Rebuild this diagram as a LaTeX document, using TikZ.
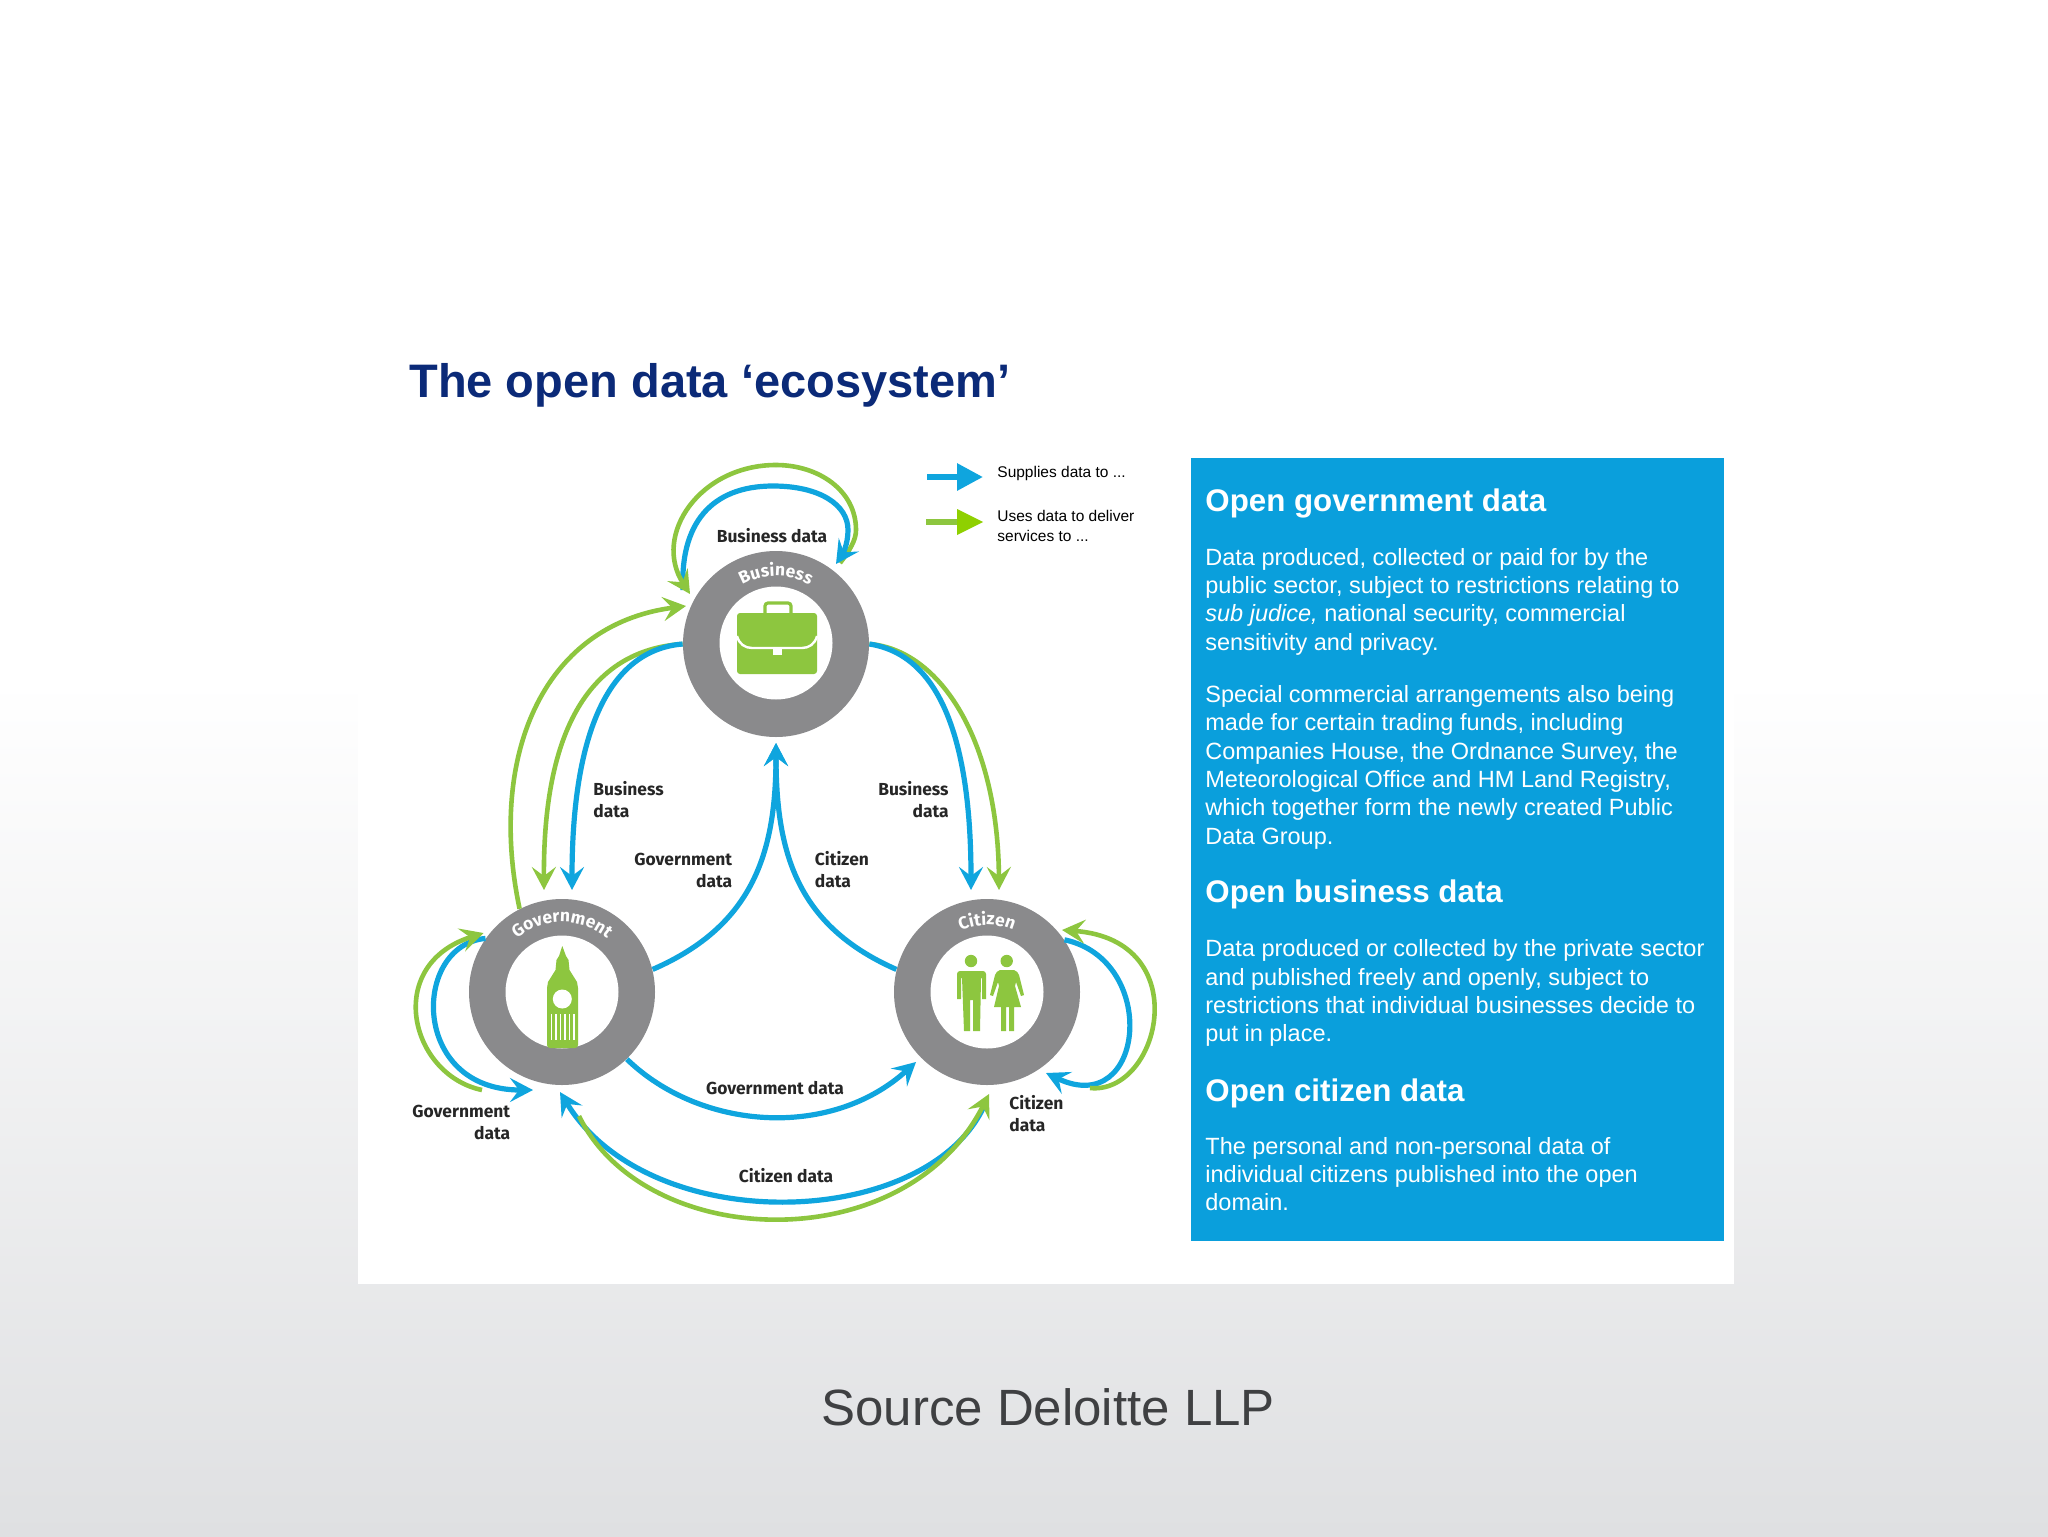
\documentclass[tikz,border=0pt]{standalone}
\usepackage{fontspec}
\setmainfont{Liberation Sans}
\newfontfamily\lblfam{Fira Sans}
\usetikzlibrary{arrows.meta,calc,decorations.text}
\definecolor{bgend}{HTML}{DFE0E2}
\definecolor{bgmid}{HTML}{EFEFF0}
\definecolor{boxblue}{HTML}{0A9FDC}
\definecolor{lineblue}{HTML}{0FA5DE}
\definecolor{linegreen}{HTML}{8DC63F}
\definecolor{legendgreen}{HTML}{8FD000}
\definecolor{ringgray}{HTML}{8A8A8C}
\definecolor{titleblue}{HTML}{0B2A78}
\definecolor{srcgray}{HTML}{3F4042}
\newcommand{\ringfont}{\lblfam\bfseries\fontsize{8.7}{10}\selectfont\color{white}}
\tikzset{
  ringnode/.style={circle,fill=ringgray,minimum size=93pt,inner sep=0pt},
  holenode/.style={circle,fill=white,minimum size=56.5pt,inner sep=0pt},
  tipb/.style={-{Stealth[length=11.5pt,width=12pt,inset=4.5pt]}},
  blueline/.style={draw=lineblue,line width=2.6pt,tipb},
  greenline/.style={draw=linegreen,line width=2.3pt,tipb},
  greenmerge/.style={draw=linegreen,line width=2.3pt},
  lab/.style={font=\lblfam\bfseries\fontsize{8.7}{11}\selectfont,text=black!85,inner sep=0pt},
  legtext/.style={font=\fontsize{7.75}{10}\selectfont,text=black,inner sep=0pt,anchor=base west},
  headtext/.style={font=\bfseries\fontsize{15.65}{18}\selectfont,text=white,inner sep=0pt,anchor=base west},
  bodytext/.style={font=\fontsize{11.75}{13}\selectfont,text=white,inner sep=0pt,anchor=base west},
  icon/.style={fill=linegreen,draw=none},
  ringtext/.style={decorate,decoration={text along path,text align=center}},
}
\begin{document}
\begin{tikzpicture}[x=0.5pt,y=-0.5pt]
\useasboundingbox (0,0) rectangle (2048,1536);
% background
\fill[white] (0,0) rectangle (2048,1536);
\shade[top color=white,middle color=bgmid,bottom color=bgend] (0,680) rectangle (2048,1536);
\fill[white] (358,440) rectangle (1734,1284);
\fill[boxblue] (1191,458) rectangle (1724,1241);

% title + source
\node[anchor=base west,inner sep=0pt,text=titleblue,font=\bfseries\fontsize{23.5}{28}\selectfont] (title) at (409,397) {The open data ‘ecosystem’};
\node[anchor=base west,inner sep=0pt,text=srcgray,font=\fontsize{25.5}{30}\selectfont] (source) at (821,1425) {Source Deloitte LLP};

% rings
\node[ringnode] (biz) at (776,644) {};
\node[ringnode] (gov) at (562,992) {};
\node[ringnode] (cit) at (987,992) {};
\node[holenode] (bizhole) at (776,643) {};
\node[holenode] (govhole) at (562,992) {};
\node[holenode] (cithole) at (987,992) {};

% ring captions
\path[ringtext,decoration={text={|\ringfont|Business}}] ($(biz.center)+(150:34pt)$) arc[start angle=150,end angle=30,radius=34pt];
\path[ringtext,decoration={text={|\ringfont|Government}}] ($(gov.center)+(150:35pt)$) arc[start angle=150,end angle=30,radius=35pt];
\path[ringtext,decoration={text={|\ringfont|Citizen}}] ($(cit.center)+(150:33.5pt)$) arc[start angle=150,end angle=30,radius=33.5pt];

% briefcase
\fill[icon] (740,613) -- (814,613) to[out=0,in=90] (817,616) -- (817,671) to[out=-90,in=0] (814,674) -- (740,674) to[out=180,in=-90] (737,671) -- (737,616) to[out=90,in=180] cycle;
\draw[white,line width=1.2pt] (737,636) .. controls (739,644) and (745,648) .. (752,648) -- (802,648) .. controls (809,648) and (815,644) .. (817,636);
\fill[white] (773,647) rectangle (782,655);
\draw[linegreen,line width=1.6pt] (765,613) -- (765,606) to[out=90,in=180] (768,603) -- (788,603) to[out=0,in=90] (791,606) -- (791,613);

% Big Ben
\fill[icon] (562.3,946) -- (559,956) -- (556.5,960) -- (555.5,970) -- (548,982) -- (547,988) -- (547,1045) to[out=-90,in=180] (550,1048) -- (575,1048) to[out=0,in=-90] (578,1045) -- (578,988) -- (577,982) -- (569.5,970) -- (568.5,960) -- (566,956) -- cycle;
\fill[white] (562.3,999) circle[radius=9.5];
\foreach \sx in {550.5,555,559.5,564,568.5,573}{\fill[white] (\sx,1014) rectangle ++(1.8,26);}

% man
\fill[icon] (971,961) circle[radius=6.2];
\fill[icon] (960,971) -- (983,971) to[out=0,in=90] (986,974) -- (986,999) -- (982,999) -- (982,978) -- (981,978) -- (980,1031) -- (973,1031) -- (973,1000) -- (970,1000) -- (970,1031) -- (964,1031) -- (962,978) -- (961,978) -- (961,999) -- (957,999) -- (957,974) to[out=90,in=180] cycle;
% woman
\fill[icon] (1006.7,961) circle[radius=6.2];
\fill[icon] (1000,970) -- (1014,970) to[out=-20,in=110] (1019,975) -- (1024,995) -- (1021,996) -- (1016,982) -- (1015,986) -- (1021,1007) -- (1014,1007) -- (1014,1031) -- (1009,1031) -- (1009,1007) -- (1006,1007) -- (1006,1031) -- (1001,1031) -- (1001,1007) -- (994,1007) -- (999,986) -- (998,982) -- (993,996) -- (990,995) -- (995,975) to[out=70,in=200] cycle;

% named free ends
\coordinate (loopbizL) at (690,594);
\coordinate (loopbizB) at (683,590);
\coordinate (loopbizR) at (836,564);
\coordinate (loopbizG) at (840,563);
\coordinate (loopbizT) at (776,465);
\coordinate (gtipgov) at (544,890);
\coordinate (btipgov) at (572,890);
\coordinate (btipcit) at (971,890);
\coordinate (gtipcit) at (999,890);
\coordinate (gtipbiz) at (686,606);
\coordinate (btipbizc) at (776,743);
\coordinate (gselfgov) at (483.5,933);
\coordinate (gselfgovS) at (482,1090);
\coordinate (bselfgov) at (533,1090);
\coordinate (gselfcit) at (1062,930);
\coordinate (gselfcitS) at (1090,1088);
\coordinate (bselfcit) at (1046,1073);
\coordinate (tipcitgov) at (916,1062);
\coordinate (tipgovc) at (560,1092);
\coordinate (citbot) at (989,1094);
\coordinate (citblueS) at (985,1104);
\coordinate (citgreenS) at (579,1116);

% green connectors under the blue ones
\draw[greenmerge] (loopbizG) .. controls (850,550) and (856,540) .. (856,530) .. controls (856,490) and (818,465) .. (loopbizT);
\draw[greenline] (biz.180) .. controls (590,650) and (543,730) .. (gtipgov);
\draw[greenline] (biz.0) .. controls (940,650) and (998,740) .. (gtipcit);

% blue connectors
\draw[blueline] (loopbizB) .. controls (680,525) and (710,486) .. (773,486) .. controls (820,486) and (848,505) .. (848,530) .. controls (848,545) and (842,555) .. (loopbizR);
\draw[blueline] (biz.180) .. controls (610,650) and (572,730) .. (btipgov);
\draw[blueline] (biz.0) .. controls (940,655) and (971,740) .. (btipcit);
\draw[blueline] (gov.14) .. controls (755,925) and (776,850) .. (btipbizc);
\draw[blueline] (cit.166) .. controls (795,925) and (776,850) .. (btipbizc);
\draw[blueline] (gov.145) .. controls (412,945) and (410,1090) .. (bselfgov);
\draw[blueline] (cit.34) .. controls (1160,960) and (1145,1120) .. (bselfcit);
\draw[blueline] (gov.-46) .. controls (700,1130) and (830,1140) .. (tipcitgov);
\draw[blueline] (citblueS) .. controls (930,1230) and (650,1240) .. (tipgovc);

% green connectors over the blue ones
\draw[greenline] (loopbizT) .. controls (700,465) and (652,535) .. (loopbizL);
\draw[greenline] (gov.117) .. controls (488,760) and (540,625) .. (gtipbiz);
\draw[greenline] (gselfgovS) .. controls (410,1075) and (383,965) .. (gselfgov);
\draw[greenline] (gselfcitS) .. controls (1160,1095) and (1197,940) .. (gselfcit);
\draw[greenline] (citgreenS) .. controls (645,1251) and (905,1261) .. (citbot);

% legend
\coordinate (legbS) at (927,477);
\coordinate (legbE) at (983,477);
\coordinate (leggS) at (926,522);
\coordinate (leggE) at (983,522);
\draw[lineblue,line width=3pt,-{Triangle[length=13pt,width=13pt]}] (legbS) -- (legbE);
\draw[linegreen,line width=3pt] (leggS) -- (960,522);
\fill[legendgreen] (957,509) -- (983,522) -- (957,535) -- cycle;
\node[legtext] (leg1) at (997,477) {Supplies data to ...};
\node[legtext] (leg2) at (997,521) {Uses data to deliver};
\node[legtext] (leg3) at (997,541) {services to ...};

% labels
\node[lab,anchor=mid] (lb1) at (772,537) {Business data};
\node[lab,anchor=west,align=left] (lb2) at (593,800) {Business\\data};
\node[lab,anchor=east,align=right] (lb3) at (949,800) {Business\\data};
\node[lab,anchor=east,align=right] (lb4) at (732.5,870) {Government\\data};
\node[lab,anchor=west,align=left] (lb5) at (814.5,870) {Citizen\\data};
\node[lab,anchor=east,align=right] (lb6) at (510.5,1122) {Government\\data};
\node[lab,anchor=west,align=left] (lb7) at (1009,1114) {Citizen\\data};
\node[lab,anchor=mid] (lb8) at (775,1089) {Government data};
\node[lab,anchor=mid] (lb9) at (786,1177) {Citizen data};

% blue panel text
\node[headtext] (h1) at (1205,511) {Open government data};
\node[bodytext] (t1) at (1205,565) {Data produced, collected or paid for by the};
\node[bodytext] (t2) at (1205,593.3) {public sector, subject to restrictions relating to};
\node[bodytext] (t3) at (1205,621.7) {\itshape sub judice,\upshape{} national security, commercial};
\node[bodytext] (t4) at (1205,650) {sensitivity and privacy.};
\node[bodytext] (t5) at (1205,702.3) {Special commercial arrangements also being};
\node[bodytext] (t6) at (1205,730.7) {made for certain trading funds, including};
\node[bodytext] (t7) at (1205,759) {Companies House, the Ordnance Survey, the};
\node[bodytext] (t8) at (1205,787) {Meteorological Office and HM Land Registry,};
\node[bodytext] (t9) at (1205,815.7) {which together form the newly created Public};
\node[bodytext] (t10) at (1205,844) {Data Group.};
\node[headtext] (h2) at (1205,902.6) {Open business data};
\node[bodytext] (t11) at (1205,956.8) {Data produced or collected by the private sector};
\node[bodytext] (t12) at (1205,985) {and published freely and openly, subject to};
\node[bodytext] (t13) at (1205,1013.4) {restrictions that individual businesses decide to};
\node[bodytext] (t14) at (1205,1041.7) {put in place.};
\node[headtext] (h3) at (1205,1101) {Open citizen data};
\node[bodytext] (t15) at (1205,1154) {The personal and non-personal data of};
\node[bodytext] (t16) at (1205,1182.4) {individual citizens published into the open};
\node[bodytext] (t17) at (1205,1210.7) {domain.};
\end{tikzpicture}
\end{document}
